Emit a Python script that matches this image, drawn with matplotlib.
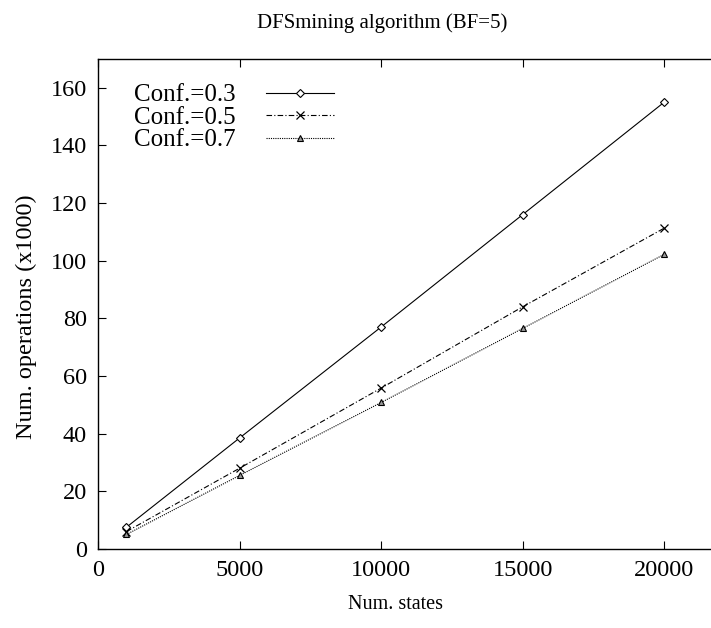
import matplotlib
matplotlib.use("Agg")
import matplotlib.pyplot as plt

plt.rcParams['font.family'] = ['Liberation Serif', 'DejaVu Serif']

states = [1000, 5000, 10000, 15000, 20000]
conf_03 = [7.5, 38.5, 77.0, 116.0, 155.0]
conf_05 = [6.0, 28.0, 55.8, 84.0, 111.3]
conf_07 = [5.0, 25.5, 50.8, 76.5, 102.2]
labels = ['Conf.=0.3', 'Conf.=0.5', 'Conf.=0.7']

fig = plt.figure(figsize=(7.11, 6.28), dpi=100)
ax = fig.add_axes([0.138, 0.126, 0.8757, 0.78])

ax.plot(states, conf_03, color='black', lw=0.8, ls='-', marker='D',
        ms=4.2, mfc='white', mec='black', mew=0.8, label=labels[0])
ax.plot(states, conf_05, color='black', lw=0.8, ls=(0, (5, 2, 1, 2)), marker='x',
        ms=6, mec='black', mew=0.9, label=labels[1])
ax.plot(states, conf_07, color='black', lw=0.8, ls=(0, (1, 1)), marker='^',
        ms=5, mfc='#999999', mec='black', mew=0.8, label=labels[2])

ax.set_xlim(0, 22000)
ax.set_ylim(0, 170)
ax.set_xticks([0, 5000, 10000, 15000, 20000])
ax.set_yticks(range(0, 161, 20))
ax.tick_params(direction='in', length=6, width=0.8, labelsize=17.5,
               top=True, right=True, pad=8)
for s in ax.spines.values():
    s.set_linewidth(1.0)

ax.set_xlabel('Num. states', fontsize=14.5, labelpad=10)
ax.xaxis.set_label_coords(0.477, -0.095)
ax.set_ylabel('Num. operations (x1000)', fontsize=17.5)
ax.yaxis.set_label_coords(-0.098, 0.475)
ax.set_title('DFSmining algorithm (BF=5)', fontsize=15, pad=22, x=0.456)

ax.legend(loc='upper left', bbox_to_anchor=(0.022, 0.995), frameon=False,
          markerfirst=False, numpoints=1, handlelength=2.72,
          labelspacing=0.0, fontsize=18, handletextpad=1.2)

fig.savefig('out.png', dpi=100)
